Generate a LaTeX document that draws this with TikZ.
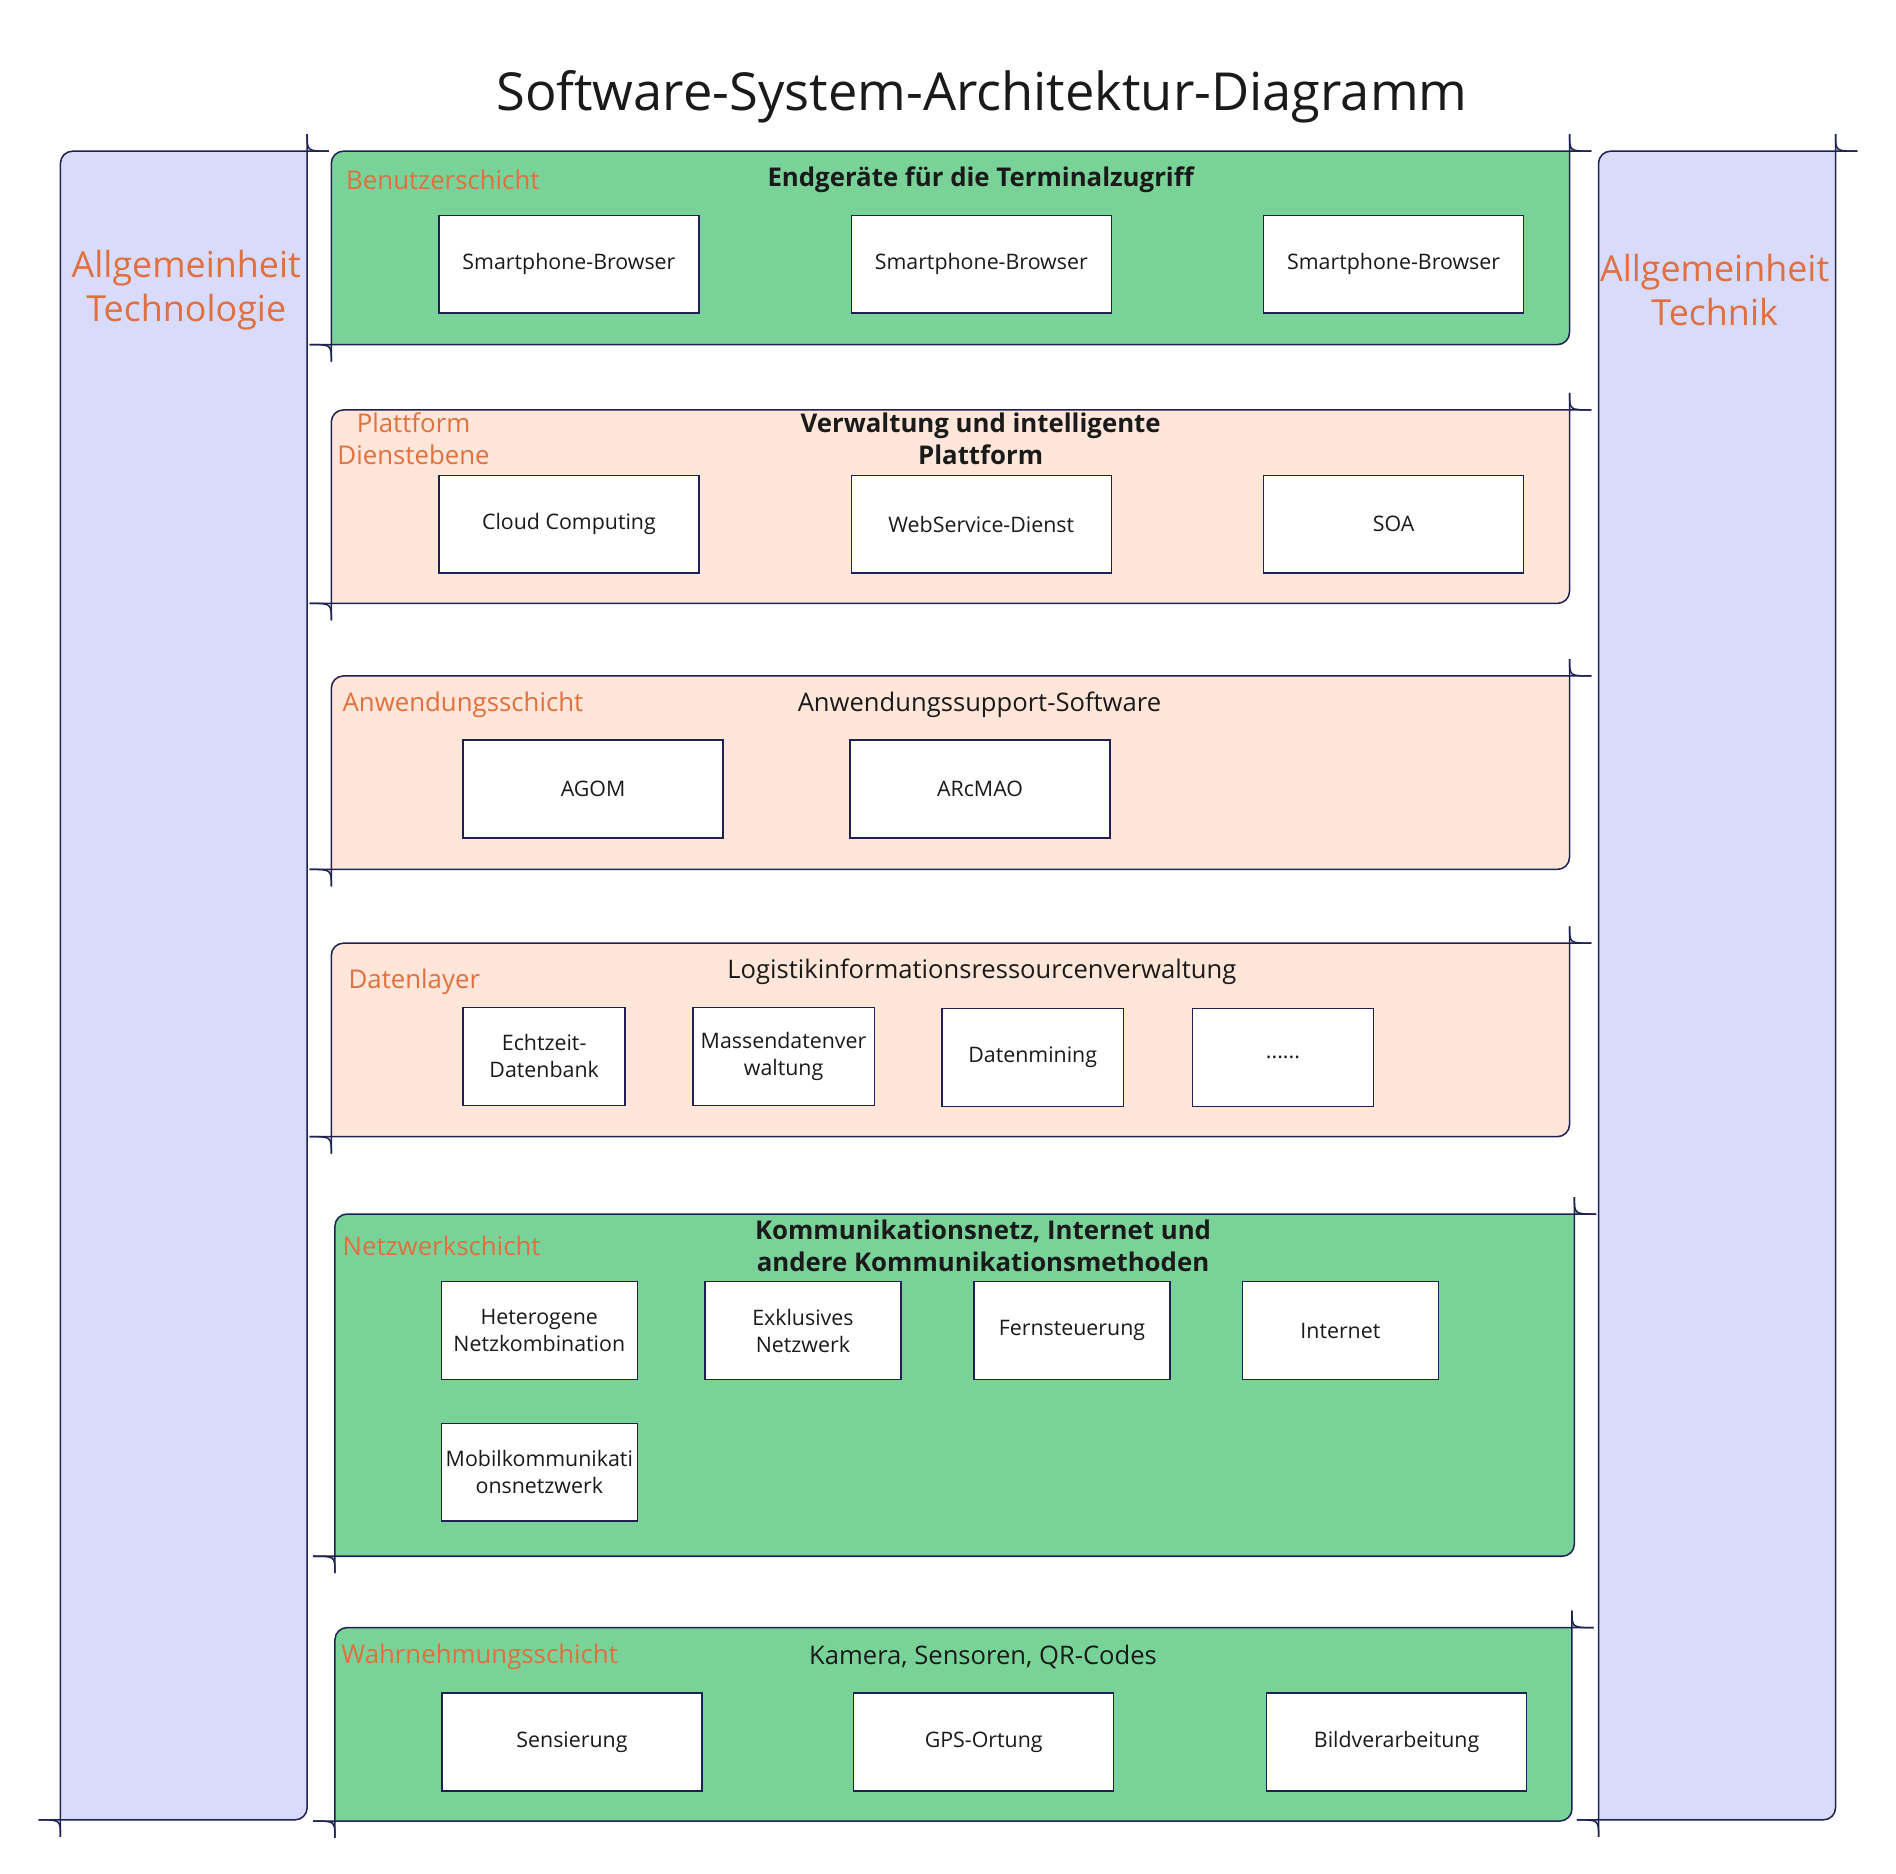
\documentclass[tikz,border=0pt]{standalone}
\usepackage{fontspec}
\setmainfont{Open Sans}
\usepackage{tikz}
\usetikzlibrary{positioning,calc}
\definecolor{edge}  {HTML}{1E2152}
\definecolor{leaf}  {HTML}{79D399}
\definecolor{peach} {HTML}{FFE6D9}
\definecolor{lilac} {HTML}{D9DBFA}
\definecolor{rust}  {HTML}{E0703F}
\definecolor{ink}   {HTML}{1A1A1A}
% panel with rounded top-left / bottom-right and curled other corners
% #1 fill, (#2,#3) top left, (#4,#5) bottom right
\newcommand{\curlpanel}[5]{%
  \fill[#1] (#2+10,#3) -- (#4,#3) -- (#4,#5-10)
    .. controls (#4,#5-4.5) and (#4-4.5,#5) .. (#4-10,#5) -- (#2,#5) -- (#2,#3+10)
    .. controls (#2,#3+4.5) and (#2+4.5,#3) .. cycle;
  \fill[#1] (#4,#3-14) .. controls (#4,#3) .. (#4+18,#3) -- (#4,#3) -- cycle;
  \fill[#1] (#2-18,#5) .. controls (#2,#5) .. (#2,#5+14) -- (#2,#5) -- cycle;
  \draw[rim] (#4+18,#3) -- (#2+10,#3) .. controls (#2+4.5,#3) and (#2,#3+4.5) .. (#2,#3+10)
    -- (#2,#5+14);
  \draw[rim] (#4,#3-14) -- (#4,#5-10) .. controls (#4,#5-4.5) and (#4-4.5,#5) .. (#4-10,#5)
    -- (#2-18,#5);
  \draw[rim] (#4,#3-14) .. controls (#4,#3) .. (#4+18,#3);
  \draw[rim] (#2-18,#5) .. controls (#2,#5) .. (#2,#5+14);
}
\tikzset{
  rim/.style   = {draw=edge, line width=0.75pt},
  cell/.style  = {draw=edge, fill=white, line width=0.7pt, align=center, inner sep=0pt,
                  minimum width=129pt, minimum height=48.6pt, text=ink,
                  font=\fontsize{10.6}{13.2}\selectfont},
  cellE/.style = {cell, minimum width=80.4pt},
  cellM/.style = {cell, minimum width=90pt},
  cellN/.style = {cell, minimum width=97.2pt},
  tag/.style   = {text=rust, font=\fontsize{12.8}{16}\selectfont, align=center, inner sep=0pt},
  head/.style  = {text=ink, font=\bfseries\fontsize{12.8}{16}\selectfont, align=center, inner sep=0pt},
  sub/.style   = {text=ink, font=\fontsize{12.7}{16}\selectfont, align=center, inner sep=0pt},
  side/.style  = {text=rust, font=\fontsize{17.8}{21.6}\selectfont, align=center, inner sep=0pt},
}
\begin{document}
\begin{tikzpicture}[x=0.6pt, y=-0.6pt]
  \useasboundingbox (0,0) rectangle (1568,1549);

  \node[text=ink, font=\fontsize{26}{32}\selectfont] (title) at (812,80)
    {Software-System-Architektur-Diagramm};

  % side columns
  \curlpanel{lilac}{50}{125}{254}{1505}
  \curlpanel{lilac}{1322}{125}{1518}{1505}
  \node[side] (tech) at (154,240) {Allgemeinheit\\Technologie};
  \node[side] (tchk) at (1418,240) {Allgemeinheit\\Technik};

  % layers
  \curlpanel{leaf}{274}{125}{1298}{285}
  \curlpanel{peach}{274}{339}{1298}{499}
  \curlpanel{peach}{274}{559}{1298}{719}
  \curlpanel{peach}{274}{780}{1298}{940}
  \curlpanel{leaf}{277}{1004}{1302}{1287}
  \curlpanel{leaf}{277}{1346}{1300}{1506}

  % Benutzerschicht
  \node[tag, anchor=west] (user) at (286,149) {Benutzerschicht};
  \node[head] (userh) at (811,149) {Endgeräte für die Terminalzugriff};
  \node[cell] (sb1) at (470.5,218.5) {Smartphone-Browser};
  \node[cell] (sb2) at (811.5,218.5) {Smartphone-Browser};
  \node[cell] (sb3) at (1152.5,218.5) {Smartphone-Browser};

  % Plattform
  \node[tag] (plat) at (342,363) {Plattform\\Dienstebene};
  \node[head] (plath) at (811,363) {Verwaltung und intelligente\\Plattform};
  \node[cell] (cloud) at (470.5,433.5) {Cloud Computing};
  \node[cell] (wsd) at (811.5,433.5) {WebService-Dienst};
  \node[cell] (soa) at (1152.5,433.5) {SOA};

  % Anwendungsschicht
  \node[tag, anchor=west] (app) at (283,583) {Anwendungsschicht};
  \node[sub] (apph) at (810,583) {Anwendungssupport-Software};
  \node[cell] (agom) at (490.5,652.5) {AGOM};
  \node[cell] (arc) at (810.5,652.5) {ARcMAO};

  % Datenlayer
  \node[tag, anchor=west] (data) at (288,812) {Datenlayer};
  \node[sub] (datah) at (812,804) {Logistikinformationsressourcenverwaltung};
  \node[cellE] (rtdb) at (450,873.5) {Echtzeit-\\Datenbank};
  \node[cellM] (mass) at (648,873.5) {Massendatenver\\waltung};
  \node[cellM] (mine) at (854,874.5) {Datenmining};
  \node[cellM] (more) at (1061,874.5) {......};

  % Netzwerkschicht
  \node[tag, anchor=west] (net) at (283,1030) {Netzwerkschicht};
  \node[head] (neth) at (813,1030) {Kommunikationsnetz, Internet und\\andere Kommunikationsmethoden};
  \node[cellN] (hetero) at (446,1100.5) {Heterogene\\Netzkombination};
  \node[cellN] (excl) at (664,1100.5) {Exklusives\\Netzwerk};
  \node[cellN] (remote) at (886.5,1100.5) {Fernsteuerung};
  \node[cellN] (inet) at (1108.5,1100.5) {Internet};
  \node[cellN] (mobil) at (446,1217.5) {Mobilkommunikati\\onsnetzwerk};

  % Wahrnehmungsschicht
  \node[tag, anchor=west] (sense) at (282,1370) {Wahrnehmungsschicht};
  \node[sub] (senseh) at (813,1370) {Kamera, Sensoren, QR-Codes};
  \node[cell] (sens) at (473,1440.5) {Sensierung};
  \node[cell] (gps) at (813.5,1440.5) {GPS-Ortung};
  \node[cell] (img) at (1155,1440.5) {Bildverarbeitung};
\end{tikzpicture}
\end{document}
